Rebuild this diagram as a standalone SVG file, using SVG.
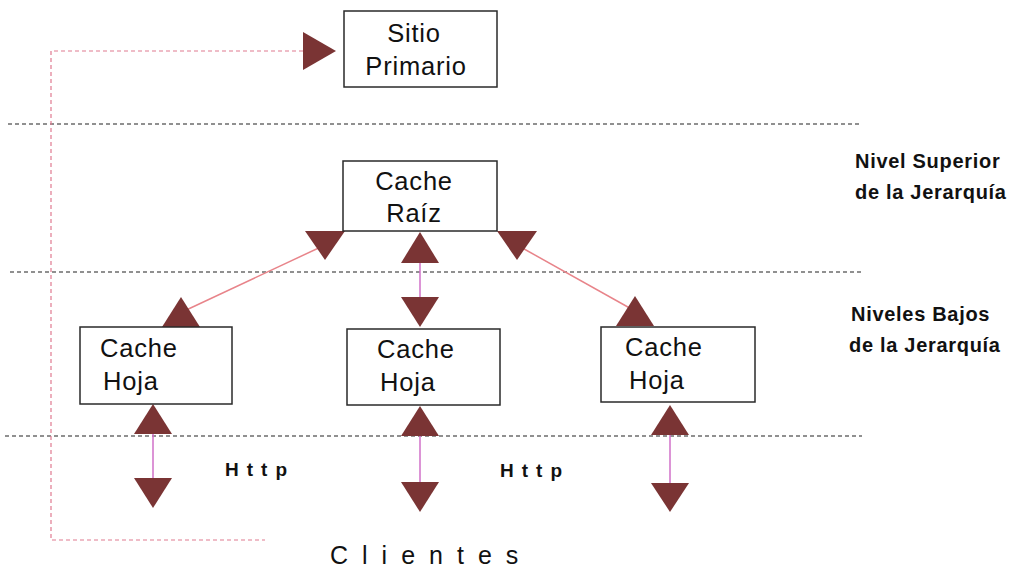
<svg xmlns="http://www.w3.org/2000/svg" width="1012" height="570" viewBox="0 0 1012 570">
<style>
.box{fill:#fff;stroke:#2a2a2a;stroke-width:1.5}
.lbl{font-family:"Liberation Sans",Arial,sans-serif;font-size:25.5px;fill:#111;letter-spacing:0.8px}
.lvl{font-family:"Liberation Sans",Arial,sans-serif;font-size:20px;font-weight:bold;fill:#111;letter-spacing:0.7px}
.http{font-family:"Liberation Sans",Arial,sans-serif;font-size:19px;font-weight:bold;fill:#111;letter-spacing:8px}
.cli{font-family:"Liberation Sans",Arial,sans-serif;font-size:25px;fill:#111;letter-spacing:14px}
.sep{stroke:#222;stroke-width:1.2;stroke-dasharray:4 3;fill:none}
.loop{stroke:#e07a90;stroke-width:1.2;stroke-dasharray:4 3;fill:none}
.diag{stroke:#e8848a;stroke-width:1.5;fill:none}
.vert{stroke:#d070c8;stroke-width:1.5;fill:none}
.head{fill:#7a3434}
</style>
<g id="separators">
<line class="sep" x1="8" y1="124" x2="862" y2="124"/>
<line class="sep" x1="10" y1="272" x2="862" y2="272"/>
<line class="sep" x1="5" y1="436" x2="862" y2="436"/>
</g>
<g id="connectors">
<polyline class="loop" points="303,51 51,51 51,540 265,540"/>
<polygon class="head" points="303,32 336,51 303,70"/>
<line class="diag" x1="325" y1="245" x2="182" y2="312"/>
<polygon class="head" points="305,231 345,231 325,260"/>
<polygon class="head" points="162,327 200,327 181,297"/>
<line class="diag" x1="517" y1="245" x2="635" y2="311"/>
<polygon class="head" points="497,231 537,231 517,260"/>
<polygon class="head" points="616,326 654,326 635,296"/>
<line class="vert" x1="420" y1="260" x2="420" y2="300"/>
<polygon class="head" points="401,263 439,263 420,232"/>
<polygon class="head" points="401,297 439,297 420,327"/>
<line class="vert" x1="153" y1="430" x2="153" y2="482"/>
<polygon class="head" points="134,434 172,434 153,404"/>
<polygon class="head" points="134,478 172,478 153,508"/>
<line class="vert" x1="420" y1="432" x2="420" y2="486"/>
<polygon class="head" points="401,436 439,436 420,406"/>
<polygon class="head" points="401,482 439,482 420,512"/>
<line class="vert" x1="670" y1="431" x2="670" y2="487"/>
<polygon class="head" points="651,435 689,435 670,405"/>
<polygon class="head" points="651,483 689,483 670,512"/>
</g>
<g id="sitio-primario">
<rect class="box" x="344" y="11" width="153" height="76"/>
<text class="lbl" x="414" y="42" text-anchor="middle">Sitio</text>
<text class="lbl" x="416" y="75" text-anchor="middle">Primario</text>
</g>
<g id="cache-raiz">
<rect class="box" x="343" y="161" width="154" height="70"/>
<text class="lbl" x="414" y="190" text-anchor="middle">Cache</text>
<text class="lbl" x="414" y="222" text-anchor="middle">Raíz</text>
</g>
<g id="cache-hoja-1">
<rect class="box" x="80" y="327" width="152" height="77"/>
<text class="lbl" x="100" y="357">Cache</text>
<text class="lbl" x="103" y="390">Hoja</text>
</g>
<g id="cache-hoja-2">
<rect class="box" x="347" y="329" width="153" height="76"/>
<text class="lbl" x="377" y="358">Cache</text>
<text class="lbl" x="380" y="391">Hoja</text>
</g>
<g id="cache-hoja-3">
<rect class="box" x="601" y="327" width="154" height="75"/>
<text class="lbl" x="625" y="356">Cache</text>
<text class="lbl" x="629" y="389">Hoja</text>
</g>
<g id="labels">
<text class="lvl" x="855" y="168">Nivel Superior</text>
<text class="lvl" x="855" y="199">de la Jerarquía</text>
<text class="lvl" x="851" y="321">Niveles Bajos</text>
<text class="lvl" x="849" y="352">de la Jerarquía</text>
<text class="http" x="225" y="476">Http</text>
<text class="http" x="500" y="477">Http</text>
<text class="cli" x="330" y="564">Clientes</text>
</g>
</svg>
